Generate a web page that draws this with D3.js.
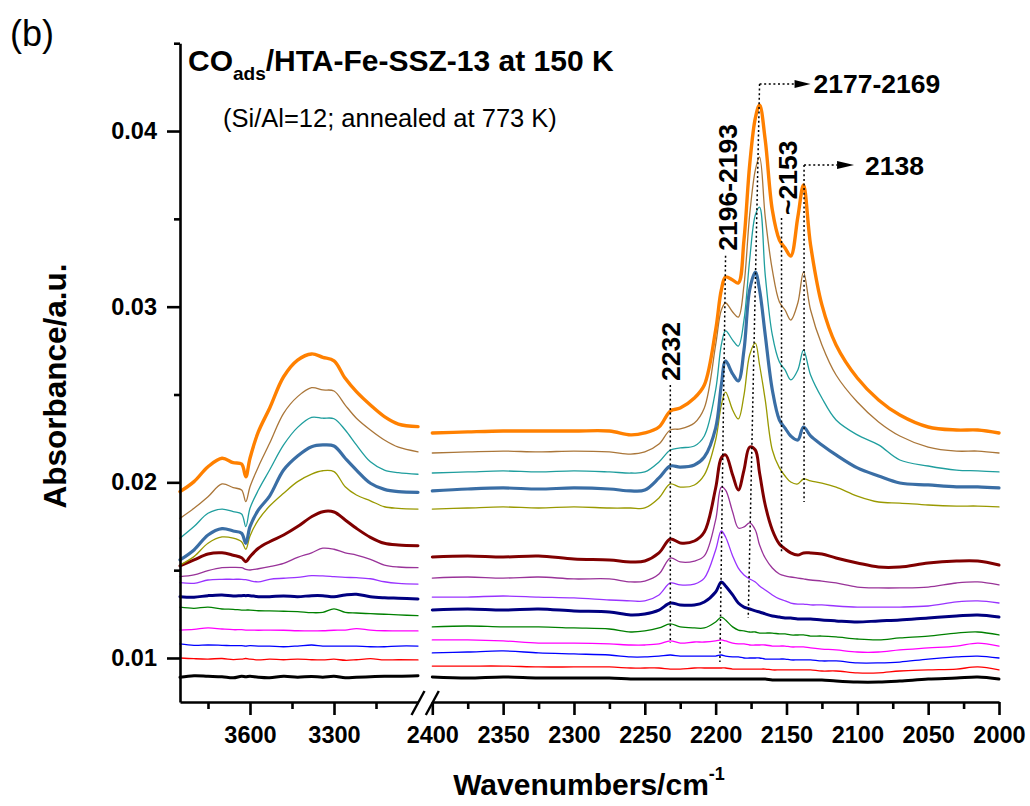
<!DOCTYPE html>
<html>
<head>
<meta charset="utf-8">
<script src="https://cdn.jsdelivr.net/npm/d3@7"></script>
<style>
  html, body { margin: 0; padding: 0; background: #fff; }
  svg { display: block; font-family: "Liberation Sans", Arial, Helvetica, sans-serif; }
</style>
</head>
<body>
<svg id="chart" width="1030" height="806"></svg>
<script>
// ---- wavenumber grids (cm^-1) of the two panels of the broken axis ----
const wnHigh = [3850, 3800, 3750, 3700, 3660, 3630, 3615, 3600, 3570, 3530, 3480,
                3430, 3380, 3340, 3300, 3260, 3220, 3170, 3120, 3070, 3000];
const wnLow = [2400, 2375, 2350, 2325, 2300, 2275, 2260, 2250, 2240, 2232,
               2225, 2215, 2208, 2200, 2196, 2193, 2188, 2184, 2180, 2176,
               2172, 2169, 2165, 2160, 2155, 2151, 2147, 2142, 2138, 2133,
               2125, 2115, 2100, 2085, 2070, 2050, 2030, 2015, 2000];

// ---- absorbance, OH-stretch region (3850-3000 cm^-1), one array per CO dose ----
const hi01 = [0.00890, 0.00899, 0.00896, 0.00893, 0.00887, 0.00896, 0.00893, 0.00896, 0.00890, 0.00887, 0.00896, 0.00891, 0.00895, 0.00891, 0.00896, 0.00887, 0.00890, 0.00893, 0.00896, 0.00896, 0.00899];
const hi02 = [0.01000, 0.00996, 0.00994, 0.00997, 0.00991, 0.00994, 0.00997, 0.00993, 0.00989, 0.00993, 0.00990, 0.00994, 0.00990, 0.00989, 0.00993, 0.00987, 0.00990, 0.00996, 0.00989, 0.00990, 0.00989];
const hi03 = [0.01080, 0.01072, 0.01074, 0.01072, 0.01070, 0.01070, 0.01068, 0.01070, 0.01068, 0.01067, 0.01064, 0.01068, 0.01074, 0.01068, 0.01067, 0.01068, 0.01067, 0.01064, 0.01064, 0.01068, 0.01068];
const hi04 = [0.01159, 0.01163, 0.01171, 0.01165, 0.01161, 0.01161, 0.01159, 0.01159, 0.01158, 0.01159, 0.01158, 0.01155, 0.01154, 0.01155, 0.01158, 0.01159, 0.01167, 0.01159, 0.01155, 0.01154, 0.01154];
const hi05 = [0.01289, 0.01283, 0.01290, 0.01279, 0.01277, 0.01273, 0.01273, 0.01273, 0.01269, 0.01268, 0.01266, 0.01264, 0.01258, 0.01260, 0.01280, 0.01260, 0.01256, 0.01252, 0.01249, 0.01245, 0.01241];
const hi06 = [0.01349, 0.01346, 0.01355, 0.01359, 0.01353, 0.01355, 0.01355, 0.01355, 0.01349, 0.01349, 0.01353, 0.01349, 0.01355, 0.01355, 0.01349, 0.01359, 0.01363, 0.01349, 0.01343, 0.01340, 0.01336];
const hi07 = [0.01429, 0.01425, 0.01444, 0.01448, 0.01448, 0.01448, 0.01446, 0.01440, 0.01433, 0.01448, 0.01454, 0.01459, 0.01469, 0.01467, 0.01463, 0.01459, 0.01457, 0.01451, 0.01434, 0.01425, 0.01421];
const hi08 = [0.01463, 0.01473, 0.01497, 0.01514, 0.01516, 0.01514, 0.01505, 0.01501, 0.01508, 0.01520, 0.01539, 0.01573, 0.01599, 0.01625, 0.01619, 0.01599, 0.01586, 0.01562, 0.01529, 0.01518, 0.01514];
const hi09 = [0.01524, 0.01558, 0.01592, 0.01599, 0.01585, 0.01571, 0.01548, 0.01577, 0.01625, 0.01662, 0.01700, 0.01748, 0.01804, 0.01833, 0.01831, 0.01786, 0.01738, 0.01687, 0.01653, 0.01643, 0.01639];
const hi10 = [0.01529, 0.01577, 0.01653, 0.01689, 0.01682, 0.01662, 0.01619, 0.01695, 0.01786, 0.01865, 0.01938, 0.02004, 0.02047, 0.02066, 0.02061, 0.01975, 0.01928, 0.01895, 0.01861, 0.01852, 0.01848];
const hi11 = [0.01558, 0.01615, 0.01700, 0.01736, 0.01723, 0.01710, 0.01653, 0.01748, 0.01843, 0.01922, 0.02070, 0.02150, 0.02203, 0.02213, 0.02207, 0.02137, 0.02070, 0.01995, 0.01960, 0.01947, 0.01943];
const hi12 = [0.01682, 0.01748, 0.01824, 0.01848, 0.01833, 0.01820, 0.01748, 0.01852, 0.01956, 0.02070, 0.02213, 0.02313, 0.02370, 0.02365, 0.02362, 0.02298, 0.02213, 0.02117, 0.02070, 0.02055, 0.02046];
const hi13 = [0.01795, 0.01852, 0.01918, 0.01991, 0.01970, 0.01956, 0.01890, 0.01975, 0.02089, 0.02222, 0.02393, 0.02488, 0.02539, 0.02526, 0.02520, 0.02440, 0.02365, 0.02298, 0.02241, 0.02200, 0.02174];
const hi14 = [0.01947, 0.02004, 0.02089, 0.02137, 0.02112, 0.02104, 0.02032, 0.02137, 0.02288, 0.02422, 0.02601, 0.02696, 0.02731, 0.02712, 0.02692, 0.02592, 0.02516, 0.02440, 0.02374, 0.02332, 0.02317];

// ---- absorbance, CO-stretch region (2400-2000 cm^-1) ----
const lo01 = [0.00892, 0.00886, 0.00892, 0.00886, 0.00886, 0.00886, 0.00880, 0.00880, 0.00880, 0.00880, 0.00880, 0.00880, 0.00880, 0.00880, 0.00880, 0.00880, 0.00880, 0.00880, 0.00880, 0.00880, 0.00880, 0.00880, 0.00880, 0.00875, 0.00875, 0.00875, 0.00875, 0.00875, 0.00875, 0.00875, 0.00875, 0.00869, 0.00863, 0.00863, 0.00869, 0.00880, 0.00886, 0.00892, 0.00880];
const lo02 = [0.00954, 0.00954, 0.00954, 0.00949, 0.00949, 0.00949, 0.00943, 0.00943, 0.00943, 0.00937, 0.00937, 0.00943, 0.00943, 0.00943, 0.00943, 0.00943, 0.00937, 0.00937, 0.00937, 0.00937, 0.00937, 0.00937, 0.00937, 0.00932, 0.00932, 0.00932, 0.00932, 0.00932, 0.00932, 0.00932, 0.00926, 0.00926, 0.00915, 0.00915, 0.00926, 0.00932, 0.00937, 0.00949, 0.00932];
const lo03 = [0.01029, 0.01034, 0.01040, 0.01029, 0.01023, 0.01017, 0.01006, 0.01006, 0.01011, 0.01017, 0.01011, 0.01011, 0.01011, 0.01011, 0.01017, 0.01011, 0.01006, 0.01006, 0.01000, 0.01000, 0.01000, 0.01000, 0.00994, 0.00994, 0.00994, 0.00994, 0.00989, 0.00989, 0.00989, 0.00989, 0.00983, 0.00983, 0.00972, 0.00972, 0.00977, 0.00994, 0.01006, 0.01011, 0.01000];
const lo04 = [0.01103, 0.01103, 0.01097, 0.01085, 0.01085, 0.01080, 0.01074, 0.01074, 0.01080, 0.01097, 0.01085, 0.01091, 0.01091, 0.01097, 0.01103, 0.01097, 0.01085, 0.01080, 0.01080, 0.01074, 0.01074, 0.01074, 0.01074, 0.01068, 0.01068, 0.01068, 0.01063, 0.01063, 0.01063, 0.01057, 0.01051, 0.01046, 0.01034, 0.01034, 0.01046, 0.01057, 0.01068, 0.01085, 0.01068];
const lo05 = [0.01177, 0.01182, 0.01177, 0.01177, 0.01171, 0.01165, 0.01148, 0.01154, 0.01171, 0.01194, 0.01177, 0.01171, 0.01171, 0.01205, 0.01233, 0.01216, 0.01177, 0.01159, 0.01154, 0.01148, 0.01148, 0.01142, 0.01142, 0.01142, 0.01137, 0.01137, 0.01131, 0.01131, 0.01131, 0.01125, 0.01125, 0.01120, 0.01108, 0.01103, 0.01114, 0.01125, 0.01142, 0.01148, 0.01131];
const lo06 = [0.01273, 0.01279, 0.01273, 0.01279, 0.01268, 0.01262, 0.01245, 0.01251, 0.01273, 0.01313, 0.01302, 0.01302, 0.01319, 0.01376, 0.01433, 0.01410, 0.01359, 0.01313, 0.01290, 0.01279, 0.01268, 0.01262, 0.01251, 0.01239, 0.01233, 0.01228, 0.01228, 0.01222, 0.01222, 0.01222, 0.01216, 0.01211, 0.01205, 0.01211, 0.01216, 0.01228, 0.01239, 0.01245, 0.01233];
const lo07 = [0.01347, 0.01347, 0.01353, 0.01347, 0.01342, 0.01330, 0.01325, 0.01325, 0.01359, 0.01427, 0.01416, 0.01421, 0.01455, 0.01615, 0.01723, 0.01689, 0.01581, 0.01512, 0.01473, 0.01450, 0.01433, 0.01410, 0.01387, 0.01359, 0.01336, 0.01325, 0.01313, 0.01307, 0.01307, 0.01302, 0.01302, 0.01296, 0.01290, 0.01290, 0.01290, 0.01296, 0.01319, 0.01325, 0.01313];
const lo08 = [0.01455, 0.01461, 0.01455, 0.01461, 0.01450, 0.01450, 0.01433, 0.01438, 0.01478, 0.01569, 0.01547, 0.01552, 0.01581, 0.01786, 0.01973, 0.01956, 0.01831, 0.01740, 0.01746, 0.01769, 0.01729, 0.01643, 0.01569, 0.01512, 0.01478, 0.01467, 0.01461, 0.01455, 0.01450, 0.01444, 0.01438, 0.01427, 0.01404, 0.01399, 0.01399, 0.01404, 0.01427, 0.01433, 0.01416];
const lo09 = [0.01575, 0.01581, 0.01575, 0.01581, 0.01564, 0.01558, 0.01547, 0.01552, 0.01598, 0.01677, 0.01655, 0.01666, 0.01717, 0.01968, 0.02139, 0.02156, 0.02042, 0.01956, 0.02070, 0.02201, 0.02184, 0.02053, 0.01871, 0.01729, 0.01649, 0.01621, 0.01598, 0.01586, 0.01598, 0.01598, 0.01592, 0.01569, 0.01541, 0.01518, 0.01518, 0.01541, 0.01552, 0.01552, 0.01529];
const lo10 = [0.01848, 0.01854, 0.01860, 0.01854, 0.01860, 0.01854, 0.01854, 0.01854, 0.01911, 0.01991, 0.01973, 0.01985, 0.02042, 0.02241, 0.02440, 0.02514, 0.02412, 0.02361, 0.02497, 0.02725, 0.02793, 0.02668, 0.02469, 0.02184, 0.02082, 0.02036, 0.02002, 0.01991, 0.02019, 0.02008, 0.01996, 0.01973, 0.01922, 0.01888, 0.01882, 0.01871, 0.01865, 0.01865, 0.01860];
const lo11 = [0.01951, 0.01962, 0.01968, 0.01962, 0.01968, 0.01962, 0.01951, 0.01956, 0.02025, 0.02093, 0.02087, 0.02099, 0.02144, 0.02309, 0.02554, 0.02691, 0.02617, 0.02577, 0.02753, 0.03095, 0.03197, 0.03095, 0.02839, 0.02526, 0.02355, 0.02309, 0.02264, 0.02241, 0.02315, 0.02264, 0.02213, 0.02156, 0.02082, 0.02036, 0.01996, 0.01985, 0.01974, 0.01974, 0.01968];
const lo12 = [0.02053, 0.02059, 0.02065, 0.02059, 0.02065, 0.02059, 0.02053, 0.02059, 0.02116, 0.02184, 0.02196, 0.02207, 0.02264, 0.02526, 0.02782, 0.02862, 0.02810, 0.02776, 0.02924, 0.03266, 0.03522, 0.03567, 0.03180, 0.02839, 0.02685, 0.02640, 0.02583, 0.02640, 0.02753, 0.02611, 0.02480, 0.02355, 0.02270, 0.02213, 0.02127, 0.02093, 0.02070, 0.02065, 0.02059];
const lo13 = [0.02167, 0.02173, 0.02178, 0.02173, 0.02178, 0.02173, 0.02161, 0.02173, 0.02218, 0.02298, 0.02304, 0.02338, 0.02423, 0.02782, 0.02981, 0.03021, 0.02970, 0.02941, 0.03123, 0.03522, 0.03778, 0.03852, 0.03510, 0.03209, 0.03027, 0.02981, 0.02924, 0.03021, 0.03197, 0.02981, 0.02782, 0.02611, 0.02457, 0.02344, 0.02264, 0.02201, 0.02178, 0.02178, 0.02167];
const lo14 = [0.02281, 0.02287, 0.02292, 0.02292, 0.02292, 0.02292, 0.02270, 0.02281, 0.02315, 0.02406, 0.02423, 0.02480, 0.02554, 0.02867, 0.03095, 0.03169, 0.03152, 0.03135, 0.03380, 0.03806, 0.04074, 0.04148, 0.03949, 0.03550, 0.03380, 0.03334, 0.03288, 0.03510, 0.03693, 0.03351, 0.03010, 0.02782, 0.02594, 0.02469, 0.02383, 0.02315, 0.02298, 0.02298, 0.02281];

// ---- axis ticks ----
const yMajorTicks = [0.01, 0.02, 0.03, 0.04];
const yMinorTicks = [0.015, 0.025, 0.035, 0.045];
const xHighMajorTicks = [3600, 3300];
const xHighMinorTicks = [3750, 3450, 3150];
const xLowMajorTicks = [2400, 2350, 2300, 2250, 2200, 2150, 2100, 2050, 2000];
const xLowMinorTicks = [2375, 2325, 2275, 2225, 2175, 2125, 2075, 2025];

// ---- band assignments: guide end points [wavenumber, absorbance] ----
const band2232 = [[2232, 0.02554], [2232, 0.01085]];
const band2196 = [[2193, 0.03290], [2197, 0.00977]];
const band2177 = [[2169, 0.04268], [2177, 0.01228]];
const band2153 = [[2153.5, 0.03505], [2153.5, 0.01598]];
const band2138 = [[2137.6, 0.03806], [2137.6, 0.01888]];

// ---- spectrum styles, lowest to highest dose ----
const strokeColors = ["#000000", "#ff0000", "#0000ff", "#ff00ff", "#008000", "#000080", "#9933ff",
                      "#993399", "#800000", "#999900", "#3a6ea5", "#1f9e9e", "#aa7639", "#ff8000"];
const strokeWidths = [3, 1.3, 1.3, 1.3, 1.3, 3, 1.3, 1.3, 3, 1.3, 3.2, 1.3, 1.3, 3.4];

const highSeries = [hi01, hi02, hi03, hi04, hi05, hi06, hi07, hi08, hi09, hi10, hi11, hi12, hi13, hi14];
const lowSeries  = [lo01, lo02, lo03, lo04, lo05, lo06, lo07, lo08, lo09, lo10, lo11, lo12, lo13, lo14];

// ---- scales ----
const svg = d3.select("#chart");
const y = d3.scaleLinear().domain([0.0075, 0.045]).range([701.9, 43.2]);
const xHigh = d3.scaleLinear().domain([3850, 3000]).range([180, 418]);
const xLow = d3.scaleLinear().domain([2400, 2000]).range([432.3, 999]);
const axisY = 702;

// ---- spectra ----
function spectrumPath(xs, wn) {
  return d3.line()
    .x((d, i) => xs(wn[i]))
    .y(d => y(d))
    .curve(d3.curveCatmullRom.alpha(0.5));
}
const plot = svg.append("g").attr("fill", "none").attr("stroke-linejoin", "round").attr("stroke-linecap", "round");
highSeries.forEach((vals, i) => {
  plot.append("path").attr("d", spectrumPath(xHigh, wnHigh)(vals))
    .attr("stroke", strokeColors[i]).attr("stroke-width", strokeWidths[i]);
});
lowSeries.forEach((vals, i) => {
  plot.append("path").attr("d", spectrumPath(xLow, wnLow)(vals))
    .attr("stroke", strokeColors[i]).attr("stroke-width", strokeWidths[i]);
});

// ---- axes ----
function styleAxis(g) {
  g.selectAll(".domain").attr("stroke", "#000").attr("stroke-width", 2.6);
  g.selectAll(".tick line").attr("stroke", "#000").attr("stroke-width", 2.6);
  g.selectAll(".tick text").attr("fill", "#000").attr("font-size", 23.5).attr("font-weight", "bold")
    .attr("font-family", '"Liberation Sans", Arial, sans-serif');
}
const fmtY = d3.format(".2f");
svg.append("g").attr("transform", "translate(180,0)")
  .call(d3.axisLeft(y).tickValues(yMajorTicks).tickFormat(fmtY).tickSize(13).tickPadding(10).tickSizeOuter(0))
  .call(styleAxis);
svg.append("g").attr("transform", "translate(180,0)")
  .call(d3.axisLeft(y).tickValues(yMinorTicks).tickFormat("").tickSize(6).tickSizeOuter(0))
  .call(styleAxis).call(g => g.select(".domain").remove());

[[xHigh, xHighMajorTicks, xHighMinorTicks], [xLow, xLowMajorTicks, xLowMinorTicks]].forEach(([xs, major, minor]) => {
  svg.append("g").attr("transform", `translate(0,${axisY})`)
    .call(d3.axisBottom(xs).tickValues(major).tickFormat(d3.format("d")).tickSize(13).tickPadding(11).tickSizeOuter(0))
    .call(styleAxis);
  svg.append("g").attr("transform", `translate(0,${axisY})`)
    .call(d3.axisBottom(xs).tickValues(minor).tickFormat("").tickSize(7).tickSizeOuter(0))
    .call(styleAxis).call(g => g.select(".domain").remove());
});

// axis break marks
[xHigh.range()[1], xLow.range()[0]].forEach(xb => {
  svg.append("line")
    .attr("x1", xb - 6.5).attr("y1", axisY + 13)
    .attr("x2", xb + 6.5).attr("y2", axisY - 11)
    .attr("stroke", "#000").attr("stroke-width", 2.4);
});

// ---- band guides ----
const guides = svg.append("g").attr("stroke", "#000").attr("stroke-width", 1.5)
  .attr("stroke-dasharray", "2,2.6").attr("fill", "none");
[band2232, band2196, band2177, band2153, band2138].forEach(b => {
  guides.append("line")
    .attr("x1", xLow(b[0][0])).attr("y1", y(b[0][1]))
    .attr("x2", xLow(b[1][0])).attr("y2", y(b[1][1]));
});

const labelFont = 26.5;
function rotatedLabel(text, px, py) {
  svg.append("text").attr("transform", `translate(${px},${py}) rotate(-90)`)
    .attr("font-size", labelFont).attr("font-weight", "bold").attr("fill", "#000")
    .text(text);
}
rotatedLabel("2232", xLow(band2232[0][0]) + 10, y(band2232[0][1]) - 4);
rotatedLabel("2196-2193", xLow(band2196[0][0]) + 11, y(band2196[0][1]) - 5);
rotatedLabel("~2153", xLow(band2153[0][0]) + 15, y(band2153[0][1]) - 3);

function arrowLabel(text, band, dotLen, headLen, textGap) {
  const x0 = xLow(band[0][0]), y0 = y(band[0][1]);
  guides.append("line").attr("x1", x0).attr("y1", y0).attr("x2", x0 + dotLen).attr("y2", y0);
  const hx = x0 + dotLen;
  svg.append("path")
    .attr("d", `M${hx},${y0 - 4}L${hx + headLen},${y0}L${hx},${y0 + 4}Z`)
    .attr("fill", "#000");
  svg.append("text").attr("x", hx + headLen + textGap).attr("y", y0 + 9.5)
    .attr("font-size", labelFont).attr("font-weight", "bold").attr("fill", "#000")
    .text(text);
}
arrowLabel("2177-2169", band2177, 35, 16, 3);
arrowLabel("2138", band2138, 33, 17, 11);

// ---- titles ----
svg.append("text").attr("x", 10).attr("y", 46).attr("font-size", 36).attr("fill", "#000").text("(b)");

const title = svg.append("text").attr("x", 188).attr("y", 71).attr("font-weight", "bold")
  .attr("font-size", 30).attr("fill", "#000");
title.append("tspan").text("CO");
title.append("tspan").attr("font-size", 19).attr("dy", 9).text("ads");
title.append("tspan").attr("font-size", 30).attr("dy", -9).text("/HTA-Fe-SSZ-13 at 150 K");

svg.append("text").attr("x", 223).attr("y", 127).attr("font-size", 25.5).attr("fill", "#000")
  .text("(Si/Al=12; annealed at 773 K)");

svg.append("text").attr("transform", "translate(66,386) rotate(-90)")
  .attr("text-anchor", "middle").attr("font-size", 31.5).attr("font-weight", "bold").attr("fill", "#000")
  .text("Absorbance/a.u.");

const xTitle = svg.append("text").attr("x", 589).attr("y", 795).attr("text-anchor", "middle")
  .attr("font-size", 30).attr("font-weight", "bold").attr("fill", "#000");
xTitle.append("tspan").text("Wavenumbers/cm");
xTitle.append("tspan").attr("font-size", 18).attr("dy", -15).text("-1");
</script>
</body>
</html>
